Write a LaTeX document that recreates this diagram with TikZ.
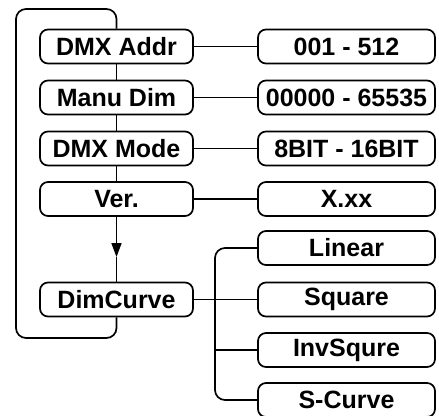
\documentclass[tikz,border=0pt]{standalone}
\usepackage{fontspec}
\setmainfont{Liberation Sans}
\usetikzlibrary{arrows.meta,calc}

\tikzset{
  menubox/.style={draw, line width=1.7pt, rounded corners=8pt, minimum height=34pt,
    inner sep=0pt, font=\bfseries\fontsize{25}{25}\selectfont},
  leftbox/.style={menubox, minimum width=153pt},
  rightbox/.style={menubox, minimum width=177pt},
  link/.style={line width=1.7pt}
}

\begin{document}
\begin{tikzpicture}[x=1pt,y=-1pt]
      \useasboundingbox (0,0) rectangle (439,415);
      % menu column
      \node[leftbox] (addr) at (116.5,46.5) {DMX Addr};
      \node[leftbox] (manu) at (116.5,97.5) {Manu Dim};
      \node[leftbox] (mode) at (116.5,148.5) {DMX Mode};
      \node[leftbox] (ver) at (116.5,199) {Ver.};
      \node[leftbox] (dim) at (116.5,299.5) {DimCurve};
      % values
      \node[rightbox] (addrval) at (346.5,46.5) {001 - 512};
      \node[rightbox] (manuval) at (346.5,97.5) {00000 - 65535};
      \node[rightbox] (modeval) at (346.5,148.5) {8BIT - 16BIT};
      \node[rightbox] (verval) at (346.5,199) {X.xx};
      \node[rightbox] (lin) at (346.5,248) {Linear};
      \node[rightbox] (sq) at (346.5,299.5) {Square};
      \node[rightbox] (inv) at (346.5,350) {InvSqure};
      \node[rightbox] (scurve) at (346.5,400) {S-Curve};

      \draw[link] (addr) -- (manu) -- (mode) -- (ver);
      \draw[link] (addr) -- (addrval);
      \draw[link] (manu) -- (manuval);
      \draw[link] (mode) -- (modeval);
      \draw[link] (ver) -- (verval);
      \coordinate (tip) at ($(ver.south)!0.62!(dim.north)$);
      \draw[link,-{Triangle[length=14pt,width=10pt]}] (ver.south) -- (tip);
      \draw[link] (tip) -- (dim.north);
      % return loop
      \draw[link,rounded corners=10pt] (addr.north) -- (116.5,9) -- (16,9) -- (16,338) -- (116.5,338) -- (dim.south);
      % curve options
      \coordinate (bus) at (215,350);
      \draw[link] (dim.east) -- (sq.west);
      \draw[link,rounded corners=10pt] (lin.west) -| (bus) |- (scurve.west);
      \draw[link] (bus) -- (inv.west);
    \end{tikzpicture}
\end{document}
